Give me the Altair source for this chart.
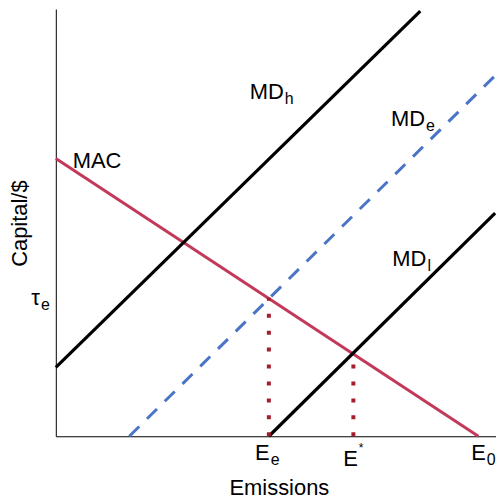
import altair as alt
import pandas as pd

# curves (x: emissions 0-100, y: capital 0-100)
curve_names = ["MAC", "MAC", "MD_h", "MD_h", "MD_e", "MD_e", "MD_l", "MD_l"]
curve_x = [0, 96, 0, 82.8, 16.7, 99.8, 48.4, 99.8]
curve_y = [65.0, 0, 16.1, 99.5, 0, 84.4, 0, 52.2]

# equilibrium drop lines
drop_names = ["Ee", "Ee", "Estar", "Estar"]
drop_x = [48.4, 48.4, 67.6, 67.6]
drop_y = [0, 32.4, 0, 19.6]

# label text: main part and sub/superscript
label_main = ["MAC", "MD", "MD", "MD", "τ", "E", "E", "E"]
label_sub = ["", "h", "e", "l", "e", "e", "", "0"]
label_sup = ["", "", "", "", "", "", "*", ""]
label_x = [14.9, 51.8, 83.9, 84.2, -3.6, 48.6, 68.6, 97.7]
label_y = [62.7, 79.0, 72.5, 39.9, 30.8, -5.6, -7.0, -5.6]

curves = pd.DataFrame({"name": curve_names, "x": curve_x, "y": curve_y})
drops = pd.DataFrame({"name": drop_names, "x": drop_x, "y": drop_y})
labels = pd.DataFrame({"main": label_main, "sub": label_sub, "sup": label_sup,
                       "x": label_x, "y": label_y})

FONT = "Liberation Sans"
xs = alt.Scale(domain=[0, 100], nice=False, zero=False)
ys = alt.Scale(domain=[0, 100], nice=False, zero=False)

x_axis = alt.Axis(title="Emissions", ticks=False, labels=False, grid=False,
                  domainColor="black", domainWidth=1, titleFont=FONT,
                  titleFontSize=22, titleFontWeight="normal", titleColor="black",
                  titleX=224, titleY=58, titleBaseline="alphabetic")
y_axis = alt.Axis(title="Capital/$", ticks=False, labels=False, grid=False,
                  domainColor="black", domainWidth=1, titleFont=FONT,
                  titleFontSize=22, titleFontWeight="normal", titleColor="black",
                  titleX=-29, titleY=215, titleBaseline="alphabetic")

base_x = alt.X("x:Q", scale=xs, axis=x_axis)
base_y = alt.Y("y:Q", scale=ys, axis=y_axis)


def curve(name, color, width, dash=None):
    kw = dict(color=color, strokeWidth=width, clip=False)
    if dash:
        kw["strokeDash"] = dash
    return alt.Chart(curves).transform_filter(
        alt.datum.name == name
    ).mark_line(**kw).encode(x=base_x, y=base_y)


mac = curve("MAC", "#C2395A", 3)
md_h = curve("MD_h", "black", 3.2)
md_e = curve("MD_e", "#4A74C6", 3, [14, 11])
md_l = curve("MD_l", "black", 3.2)

drop = alt.Chart(drops).mark_line(
    color="#A51D2D", strokeWidth=4, strokeDash=[4, 13], strokeCap="butt"
).encode(x="x:Q", y="y:Q", detail="name:N", order="y:Q")

main_txt = alt.Chart(labels).mark_text(
    align="right", baseline="alphabetic", font=FONT, fontSize=22, color="black"
).encode(x="x:Q", y="y:Q", text="main:N")
sub_txt = alt.Chart(labels).mark_text(
    align="left", baseline="alphabetic", font=FONT, fontSize=16, color="black", dx=1, dy=5
).encode(x="x:Q", y="y:Q", text="sub:N")
sup_txt = alt.Chart(labels).mark_text(
    align="left", baseline="alphabetic", font=FONT, fontSize=12, color="black", dx=1, dy=-14
).encode(x="x:Q", y="y:Q", text="sup:N")

chart = alt.layer(mac, md_h, md_e, md_l, drop, main_txt, sub_txt, sup_txt).properties(
    width=442, height=429,
    autosize=alt.AutoSizeParams(type="none"),
    padding={"left": 48, "top": 0, "right": 0, "bottom": 64},
    background="white",
).configure_view(stroke=None)

chart.save("out.html", embed_options={"renderer": "svg", "actions": False})
